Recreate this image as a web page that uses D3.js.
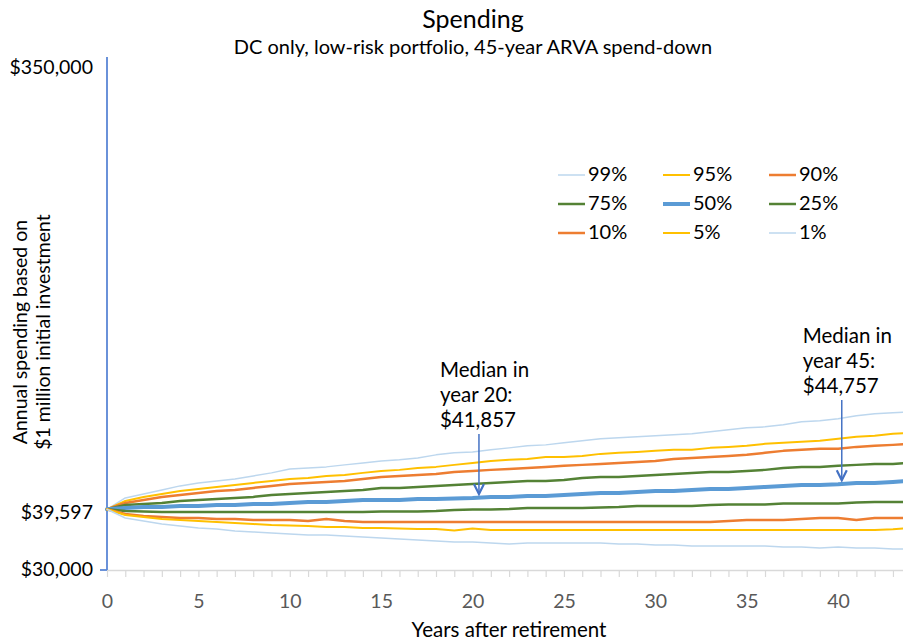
<!DOCTYPE html>
<html>
<head>
<meta charset="utf-8">
<script src="https://cdn.jsdelivr.net/npm/d3@7"></script>
<style>
  html, body { margin: 0; padding: 0; background: #fff; }
  svg { display: block; font-family: Lato, "Open Sans", sans-serif; }
</style>
</head>
<body>
<svg id="chart" width="903" height="642"></svg>
<script>
// ---------- DATA ----------
const years = d3.range(0, 45);
const seriesNames = ["99%", "95%", "90%", "75%", "50%", "25%", "10%", "5%", "1%"];

const p99 = [39597,41860,42690,43530,44400,45050,45500,45940,46620,47320,48250,48490,48730,49210,49690,50180,50430,50920,51680,52190,52440,52960,53480,54010,54270,54810,55350,55890,56170,56440,56720,57000,57280,57840,58410,58990,59280,59860,60750,61040,61640,62560,63170,63480,63790];
const p95 = [39597,41250,42070,42690,43320,43750,44180,44610,45050,45500,45940,46170,46620,46850,47320,47780,48020,48490,48730,49210,49690,50180,50430,50670,51170,51170,51420,51930,52190,52440,52700,52960,52960,53480,53740,54010,54540,54810,55080,55350,55890,56440,56720,57280,57560];
const p90 = [39597,40850,41450,42070,42480,42900,43320,43530,43960,44400,44830,45050,45270,45500,45940,46400,46620,46850,47080,47550,47780,48020,48250,48490,48730,48970,49210,49450,49690,49930,50180,50670,50920,51170,51420,51680,52190,52700,52960,53220,53220,53740,54010,54270,54540];
const p75 = [39597,40450,40650,40850,41250,41450,41660,41860,42070,42480,42690,42900,43110,43320,43530,43960,43960,44180,44400,44610,44830,45050,45270,45500,45500,45720,46170,46400,46400,46620,46850,47080,47320,47550,47550,47780,48020,48490,48730,48730,48970,49210,49450,49450,49690];
const p50 = [39597,39860,40050,40050,40250,40250,40450,40450,40650,40650,40850,41050,41050,41250,41450,41450,41450,41660,41660,41760,41857,42070,42070,42270,42270,42480,42690,42900,42900,43110,43320,43320,43530,43750,43750,43960,44180,44400,44610,44610,44757,45050,45050,45270,45500];
const p25 = [39597,39280,39180,39090,39090,39090,39090,39090,39090,39090,39090,39090,39090,39090,39090,39180,39180,39180,39280,39470,39560,39560,39660,39860,39860,39860,39860,39950,40050,40250,40250,40250,40250,40450,40550,40550,40550,40750,40750,40750,40750,40950,41050,41050,41050];
const p10 = [39597,38700,38330,38140,37950,37950,37770,37770,37580,37580,37580,37400,37770,37400,37220,37220,37220,37220,37220,37220,37220,37220,37220,37220,37220,37220,37220,37220,37220,37220,37220,37220,37220,37220,37400,37580,37580,37580,37770,37950,37950,37580,37950,37950,37950];
const p5  = [39597,38520,38140,37770,37580,37400,37220,37030,36850,36670,36590,36500,36320,36320,36140,36140,36050,35960,35960,35700,36050,35790,35790,35790,35790,35790,35790,35790,35790,35790,35790,35790,35790,35790,35790,35790,35790,35790,35790,35790,35790,35790,35790,35900,36140];
const p1  = [39597,37950,37400,36850,36500,36140,35960,35610,35440,35260,35090,34920,34920,34750,34580,34410,34240,34080,33910,33740,33740,33580,33410,33580,33580,33580,33580,33580,33410,33410,33250,33250,33090,33090,33090,33090,33090,32930,32930,32770,32930,32770,32770,32610,32610];

const yTickValues = [350000, 39597, 30000];
const xTickLabelEvery = 5;
const annotations = [
  { year: 20.35, value: 41857, lines: ["Median in", "year 20:", "$41,857"] },
  { year: 40.2,  value: 44757, lines: ["Median in", "year 45:", "$44,757"] }
];

// ---------- STYLES ----------
const styles = {
  "99%": { color: "#bdd7ee", width: 1.5 },
  "95%": { color: "#ffc000", width: 2 },
  "90%": { color: "#ed7d31", width: 2.5 },
  "75%": { color: "#548235", width: 2.5 },
  "50%": { color: "#5b9bd5", width: 4 },
  "25%": { color: "#548235", width: 2.5 },
  "10%": { color: "#ed7d31", width: 2.5 },
  "5%":  { color: "#ffc000", width: 2 },
  "1%":  { color: "#bdd7ee", width: 1.5 }
};
const seriesValues = [p99, p95, p90, p75, p50, p25, p10, p5, p1];
const series = seriesNames.map((n, i) => ({ name: n, values: seriesValues[i] }));

// ---------- CHART ----------
const svg = d3.select("#chart");
const W = 903, H = 642;
svg.append("rect").attr("width", W).attr("height", H).attr("fill", "#fff");

const x = d3.scaleLinear().domain([0, 43.55]).range([107, 903]);
const y = d3.scaleLog().domain([30000, 350000]).range([566, 64]);
const axisY = 570;

// Titles
svg.append("text").attr("x", 473).attr("y", 28).attr("text-anchor", "middle")
  .attr("font-size", 25).attr("fill", "#000").text("Spending");
svg.append("text").attr("x", 473).attr("y", 54).attr("text-anchor", "middle")
  .attr("font-size", 20).attr("fill", "#000").text("DC only, low-risk portfolio, 45-year ARVA spend-down");

// X axis
const xAxis = d3.axisBottom(x)
  .tickValues(years)
  .tickSize(7)
  .tickSizeOuter(0)
  .tickFormat(d => d % xTickLabelEvery === 0 ? d : "");
const gx = svg.append("g").attr("transform", `translate(0,${axisY})`).call(xAxis);
gx.select(".domain").attr("stroke", "#d9d9d9").attr("stroke-width", 1.5);
gx.selectAll(".tick line").attr("stroke", "#d9d9d9").attr("stroke-width", 1.2);
gx.selectAll(".tick text").attr("fill", "#595959").attr("font-size", 19.5)
  .attr("font-family", "Lato, sans-serif").attr("dy", "1.45em");

svg.append("text").attr("x", 509).attr("y", 637).attr("text-anchor", "middle")
  .attr("font-size", 20.5).attr("fill", "#000").text("Years after retirement");

// Y axis line
svg.append("line").attr("x1", x(0)).attr("x2", x(0))
  .attr("y1", y(350000) - 7).attr("y2", axisY)
  .attr("stroke", "#5a86d5").attr("stroke-width", 1.8);
svg.append("line").attr("x1", x(0) - 7).attr("x2", x(0))
  .attr("y1", axisY).attr("y2", axisY)
  .attr("stroke", "#5a86d5").attr("stroke-width", 1.8);

// Y tick labels
const fmt = d3.format("$,");
svg.append("g").selectAll("text").data(yTickValues).join("text")
  .attr("x", 93).attr("y", d => y(d) + 5)
  .attr("text-anchor", "end").attr("dominant-baseline", "middle")
  .attr("font-size", 19.5).attr("fill", "#000")
  .text(d => fmt(d));

// Y axis title
const yTitle = svg.append("text").attr("transform", "translate(0,332) rotate(-90)")
  .attr("text-anchor", "middle").attr("font-size", 19.5).attr("fill", "#000");
yTitle.append("tspan").attr("x", 0).attr("y", 27).text("Annual spending based on");
yTitle.append("tspan").attr("x", 0).attr("y", 50).text("$1 million initial investment");

// Lines
const line = d3.line().x((d, i) => x(years[i])).y(d => y(d));
svg.append("g").selectAll("path").data(series).join("path")
  .attr("d", d => line(d.values))
  .attr("fill", "none")
  .attr("stroke", d => styles[d.name].color)
  .attr("stroke-width", d => styles[d.name].width)
  .attr("stroke-linejoin", "round")
  .attr("stroke-linecap", "round");

// Legend
const legCols = [558, 663, 769];
const legRows = [175, 204, 233];
const leg = svg.append("g").selectAll("g").data(series).join("g")
  .attr("transform", (d, i) => `translate(${legCols[i % 3]},${legRows[Math.floor(i / 3)]})`);
leg.append("line").attr("x1", 0).attr("x2", 27).attr("y1", 0).attr("y2", 0)
  .attr("stroke", d => styles[d.name].color)
  .attr("stroke-width", d => styles[d.name].width);
leg.append("text").attr("x", 30).attr("y", 1).attr("dominant-baseline", "middle")
  .attr("font-size", 20).attr("fill", "#000").text(d => d.name);

// Annotations
const arrowColor = "#4472c4";
annotations.forEach((a, k) => {
  const ax = x(a.year);
  const tipY = y(a.value) - 4;
  const baseY = k === 0 ? 377 : 343;
  const t = svg.append("text").attr("font-size", 20.5).attr("fill", "#000");
  a.lines.forEach((s, j) => {
    t.append("tspan").attr("x", ax - 39).attr("y", baseY + j * 25).text(s);
  });
  const startY = baseY + 2 * 25 + 7;
  svg.append("line").attr("x1", ax).attr("x2", ax).attr("y1", startY).attr("y2", tipY)
    .attr("stroke", arrowColor).attr("stroke-width", 1.5);
  svg.append("path")
    .attr("d", `M${ax - 5},${tipY - 10} L${ax},${tipY} L${ax + 5},${tipY - 10}`)
    .attr("fill", "none").attr("stroke", arrowColor).attr("stroke-width", 2.2);
});
</script>
</body>
</html>
